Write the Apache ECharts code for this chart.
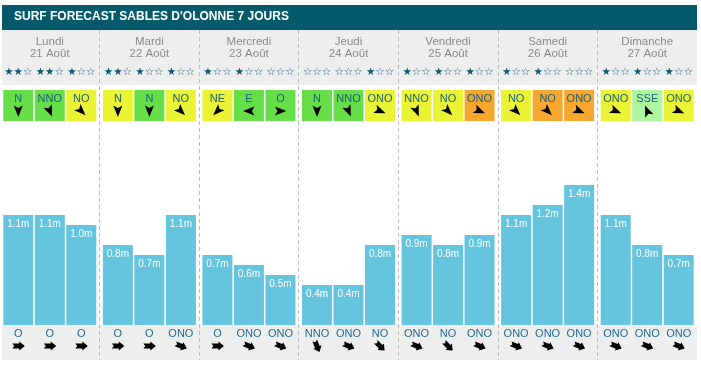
<!DOCTYPE html>
<html><head><meta charset="utf-8">
<script src="https://cdn.jsdelivr.net/npm/echarts@6/dist/echarts.min.js"></script>
<style>html,body{margin:0;padding:0;background:#fff}#c{width:701px;height:365px}</style>
</head><body><div id="c"></div>
<script>
// ---- data ----
const days = ['Lundi','Mardi','Mercredi','Jeudi','Vendredi','Samedi','Dimanche'];
const dates = ['21 Août','22 Août','23 Août','24 Août','25 Août','26 Août','27 Août'];
const waveMorning   = [1.1, 0.8, 0.7, 0.4, 0.9, 1.1, 1.1];
const waveAfternoon = [1.1, 0.7, 0.6, 0.4, 0.8, 1.2, 0.8];
const waveEvening   = [1.0, 1.1, 0.5, 0.8, 0.9, 1.4, 0.7];
const stars = [[2,2,1],[2,1,1],[1,1,0],[0,0,1],[1,1,1],[1,1,0],[1,1,1]];
const windDir = [['N','NNO','NO'],['N','N','NO'],['NE','E','O'],['N','NNO','ONO'],['NNO','NO','ONO'],['NO','NO','ONO'],['ONO','SSE','ONO']];
const windClass = [['g','g','y'],['y','g','y'],['y','g','g'],['g','g','y'],['y','y','o'],['y','o','o'],['y','l','y']];
const swellDir = [['O','O','O'],['O','O','ONO'],['O','ONO','ONO'],['NNO','ONO','NO'],['ONO','NO','ONO'],['ONO','ONO','ONO'],['ONO','ONO','ONO']];
const title = "SURF FORECAST SABLES D'OLONNE 7 JOURS";

// ---- style / lookup ----
const classColor = {g:'#66de47', y:'#ebf434', o:'#f7a62e', l:'#adf79f'};
const bearing = {N:0,NNE:22.5,NE:45,ENE:67.5,E:90,ESE:112.5,SE:135,SSE:157.5,S:180,SSO:202.5,SO:225,OSO:247.5,O:270,ONO:292.5,NO:315,NNO:337.5};
const FONT = '"Liberation Sans", Arial, sans-serif';
const BAR_W = 30, GAP = 0.05, SLOT = BAR_W * (1 + GAP);
const BAR_COLOR = '#65c4de';

const chart = echarts.init(document.getElementById('c'), null, {renderer:'canvas'});

const slots = [];
days.forEach((d, i) => { for (let s = 0; s < 3; s++) slots.push([i, 0, s]); });

function renderItem(params, api) {
  const idx = params.dataIndex;
  const d = Math.floor(idx / 3), s = idx % 3;
  const cs = params.coordSys;
  const base = api.coord([d, 0]);
  const cx = base[0] + (s - 1) * SLOT;
  const n = stars[d][s];
  const wd = windDir[d][s], sd = swellDir[d][s];
  const windTo = (bearing[wd] + 180) % 360;
  const swellTo = (bearing[sd] + 180) % 360;
  const txt = (x, y, text, fill, font) => ({
    type:'text', x:x, y:y,
    style:{text:text, fill:fill, font:font, align:'center', verticalAlign:'middle', textAlign:'center', textVerticalAlign:'middle'}
  });
  return {
    type:'group',
    children:[
      txt(cx, cs.y + 42, '★'.repeat(n) + '☆'.repeat(3 - n), '#0d5870', '10.5px "DejaVu Sans", sans-serif'),
      {type:'rect', shape:{x:cx - BAR_W/2, y:cs.y + 60, width:BAR_W, height:31}, style:{fill:classColor[windClass[d][s]]}},
      txt(cx, cs.y + 68.5, wd, '#17607a', '11px ' + FONT),
      {type:'group', x:cx, y:cs.y + 81, rotation:-windTo * Math.PI / 180,
        children:[{type:'path', shape:{pathData:'M0,-6 L4.5,5.5 L0,3 L-4.5,5.5 Z', x:-4.5, y:-6, width:9, height:11.5, layout:'cover'}, style:{fill:'#000'}}]},
      txt(cx, base[1] + 8.5, sd, '#226c95', '11px ' + FONT),
      {type:'group', x:cx, y:base[1] + 21, rotation:(90 - swellTo) * Math.PI / 180,
        children:[{type:'path', shape:{pathData:'M6.5,0 L1,-4.5 L1,-2.5 L-6,-2.5 L-4,0 L-6,2.5 L1,2.5 L1,4.5 Z', x:-6, y:-4.5, width:12.5, height:9, layout:'cover'}, style:{fill:'#000'}}]}
    ]
  };
}

const barLabel = {show:true, position:'insideTop', distance:4, color:'#fff', fontSize:10, fontFamily:FONT,
  formatter:p => p.value.toFixed(1) + 'm'};
const mkBar = (name, data) => ({
  name:name, type:'bar', data:data, barWidth:BAR_W, barGap:(GAP*100)+'%',
  itemStyle:{color:BAR_COLOR}, label:barLabel, silent:true
});

chart.setOption({
  animation:false,
  title:{text:title, left:14, top:11, padding:0, textStyle:{color:'#fff', fontSize:12, fontWeight:'bold', fontFamily:FONT}},
  graphic:[
    {type:'rect', z:-10, shape:{x:2, y:5, width:695, height:25}, style:{fill:'#04596b'}},
    {type:'rect', z:-10, shape:{x:2, y:30, width:695, height:55}, style:{fill:'#eeeeee'}},
    {type:'rect', z:-10, shape:{x:2, y:325, width:695, height:35}, style:{fill:'#eeeeee'}}
  ],
  grid:{left:0, right:4, top:30, bottom:5},
  xAxis:{
    type:'category', position:'top', data:days.map((d, i) => d + '\n' + dates[i]),
    axisLine:{show:false}, axisTick:{show:false},
    axisLabel:{inside:true, interval:0, margin:6, color:'#8a8a8a', fontSize:11.5, lineHeight:12, fontFamily:FONT, verticalAlign:'top'},
    splitLine:{show:true, showMinLine:false, showMaxLine:false, lineStyle:{color:'#bdbdbd', type:[4,3], width:1}}
  },
  yAxis:{type:'value', min:-0.35, max:2.95, show:false, splitLine:{show:false}},
  series:[
    mkBar('Matin', waveMorning),
    mkBar('Après-midi', waveAfternoon),
    mkBar('Soir', waveEvening),
    {type:'custom', data:slots, renderItem:renderItem, silent:true, clip:false, encode:{x:0, y:1}, z:5}
  ]
});
</script></body></html>
